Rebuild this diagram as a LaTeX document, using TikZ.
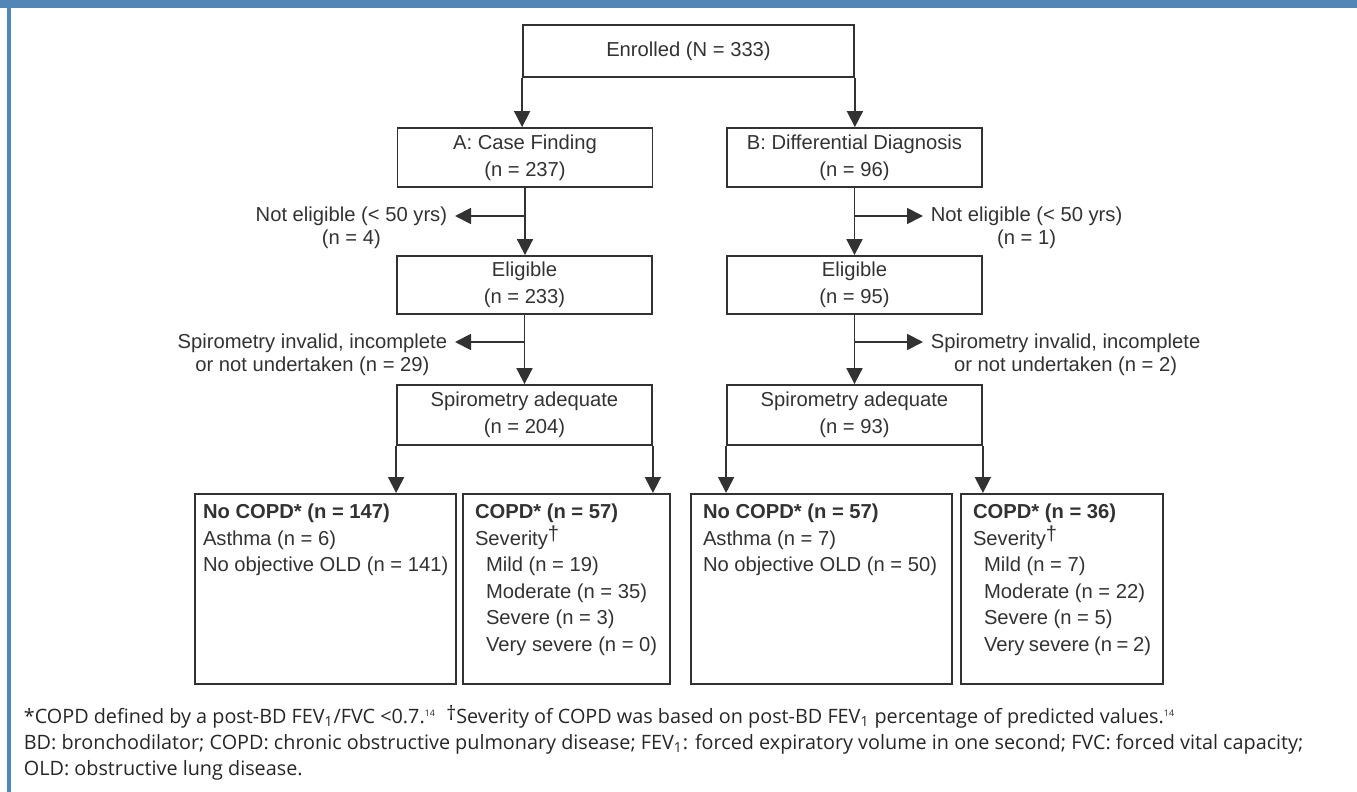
\documentclass[tikz,border=0pt]{standalone}
\usepackage{fontspec}
\setmainfont{Liberation Sans}
\newfontfamily\notefont{Open Sans}
\usetikzlibrary{arrows.meta}

\definecolor{barblue}{RGB}{82,134,183}
\definecolor{ink}{RGB}{50,50,50}

\begin{document}
\begin{tikzpicture}[x=0.5pt,y=-0.5pt,line width=0.9pt,color=ink,
  >={Triangle[length=8pt,width=8pt]},
  font=\fontsize{10.1}{13.25}\selectfont,
  box/.style={draw, align=center, inner sep=0pt, minimum width=127.5pt,
    font=\fontsize{10.1}{13.5}\selectfont},
  side/.style={align=center, inner xsep=3.5pt, font=\fontsize{10.1}{11.5}\selectfont},
  outcome/.style={draw, anchor=north, inner xsep=6pt, inner ysep=5pt}]

% 页面边框
\useasboundingbox (0,0) rectangle (1357,792);
\fill[barblue] (0,0) rectangle (1357,8.5);   % 顶部蓝条
\fill[barblue] (7,0) rectangle (11,792);     % 左侧蓝线

% 入组
\node[box, minimum width=165.5pt, minimum height=26pt] (enr) at (688.5,51) {Enrolled (N = 333)};

% 两个分组
\node[box, minimum height=29.5pt] (caseA) at (525,157.5) {A: Case Finding\\(n = 237)};
\node[box, minimum height=29.5pt] (diffB) at (854.5,157.5) {B: Differential Diagnosis\\(n = 96)};

\node[box, minimum height=29pt] (eligA) at (524.5,285) {Eligible\\(n = 233)};
\node[box, minimum height=29pt] (eligB) at (854.5,285) {Eligible\\(n = 95)};

\node[box, minimum height=30pt] (spA) at (524.5,415) {Spirometry adequate\\(n = 204)};
\node[box, minimum height=30pt] (spB) at (854.5,415) {Spirometry adequate\\(n = 93)};

% 排除的人数
\node[side, anchor=east] (nelA) at (455,227.5) {Not eligible (< 50 yrs)\\(n = 4)};
\node[side, anchor=east] (spiA) at (455,354.5) {Spirometry invalid, incomplete\\or not undertaken (n = 29)};
\node[side, anchor=west] (nelB) at (923,227.5) {Not eligible (< 50 yrs)\\(n = 1)};
\node[side, anchor=west] (spiB) at (923,354.5) {Spirometry invalid, incomplete\\or not undertaken (n = 2)};

% 结果
\node[outcome, inner xsep=4pt] (ncA) at (325.5,493) {\parbox[t][85pt][t]{122.5pt}{%
  \textbf{No COPD* (n = 147)}\\Asthma (n = 6)\\\mbox{No objective OLD (n = 141)}}};
\node[outcome] (cA) at (566.5,493) {\parbox[t][85pt][t]{91.5pt}{%
  \textbf{COPD* (n = 57)}\\Severity\raisebox{2.5pt}{†}\\
  \hspace*{5.5pt}Mild (n = 19)\\\hspace*{5.5pt}Moderate (n = 35)\\
  \hspace*{5.5pt}Severe (n = 3)\\\hspace*{5.5pt}Very severe (n = 0)}};
\node[outcome] (ncB) at (821.5,493) {\parbox[t][85pt][t]{118.5pt}{%
  \textbf{No COPD* (n = 57)}\\Asthma (n = 7)\\No objective OLD (n = 50)}};
\node[outcome] (cB) at (1062,493) {\parbox[t][85pt][t]{89pt}{%
  \textbf{COPD* (n = 36)}\\Severity\raisebox{2.5pt}{†}\\
  \hspace*{5.5pt}Mild (n = 7)\\\hspace*{5.5pt}Moderate (n = 22)\\
  \hspace*{5.5pt}Severe (n = 5)\\\hspace*{5.5pt}Very severe (n = 2)}};

% 分支点
\coordinate (jA1) at (525,216);
\coordinate (jA2) at (525,342);
\coordinate (jB1) at (854.5,216);
\coordinate (jB2) at (854.5,342);

% 箭头
\draw[->] (enr.south west) -- (enr.south west |- caseA.north);
\draw[->] (enr.south east) -- (enr.south east |- diffB.north);
\draw[->] (caseA.south) -- (caseA.south |- eligA.north);
\draw[->] (diffB.south) -- (diffB.south |- eligB.north);
\draw[->] (eligA.south) -- (eligA.south |- spA.north);
\draw[->] (eligB.south) -- (eligB.south |- spB.north);
\draw[->] (jA1) -- (jA1 -| nelA.east);
\draw[->] (jA2) -- (jA2 -| spiA.east);
\draw[->] (jB1) -- (jB1 -| nelB.west);
\draw[->] (jB2) -- (jB2 -| spiB.west);
\draw[->] (spA.south west) -- (spA.south west |- ncA.north);
\draw[->] (spA.south east) -- (spA.south east |- cA.north);
\draw[->] (spB.south west) -- (spB.south west |- ncB.north);
\draw[->] (spB.south east) -- (spB.south east |- cB.north);

% 脚注
\node[anchor=north west, align=left, inner sep=0pt, text=black!85,
  font=\notefont\fontsize{9.9}{12.9}\selectfont] (note) at (23,705)
  {*COPD defined by a post-BD FEV\textsubscript{1}/FVC <0.7.\textsuperscript{\fontsize{4.5}{5}\selectfont 14}\ \ \raisebox{1.5pt}{†}Severity of COPD was based on post-BD FEV\textsubscript{1} percentage of predicted values.\textsuperscript{\fontsize{4.5}{5}\selectfont 14}\\
  BD: bronchodilator; COPD: chronic obstructive pulmonary disease; FEV\textsubscript{1}: forced expiratory volume in one second; FVC: forced vital capacity;\\
  OLD: obstructive lung disease.};

\end{tikzpicture}
\end{document}
